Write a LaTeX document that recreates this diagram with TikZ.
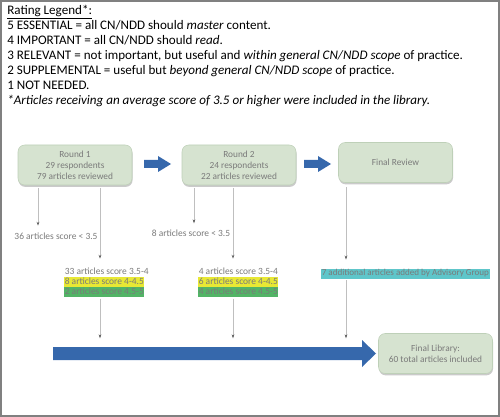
\documentclass[tikz,border=0pt]{standalone}
\usepackage{fontspec}
\setmainfont{Carlito}
\usetikzlibrary{arrows.meta,shadows}
\definecolor{boxgreen}{RGB}{214,227,208}
\definecolor{boxline}{RGB}{190,208,184}
\definecolor{txtgray}{RGB}{122,122,122}
\definecolor{bigblue}{RGB}{54,104,172}
\definecolor{hlyellow}{RGB}{232,232,52}
\definecolor{hlgreen}{RGB}{82,180,102}
\definecolor{hlcyan}{RGB}{94,198,202}
\definecolor{framegray}{RGB}{128,128,128}

\begin{document}
\begin{tikzpicture}[x=0.75pt,y=0.75pt,
  stage/.style={draw=boxline, fill=boxgreen, rounded corners=5pt, text=txtgray,
    align=center, font=\fontsize{7}{8.25}\selectfont,
    minimum width=85.5pt, minimum height=30pt,
    drop shadow={shadow xshift=0.4pt, shadow yshift=-1.4pt, fill=gray!70, opacity=0.6}},
  tally/.style={text=txtgray, font=\fontsize{7.1}{7.5}\selectfont, inner sep=0.4pt,
    text height=5.2pt, text depth=1.5pt, anchor=west},
  down/.style={draw=gray!50, line width=0.6pt,
    -{Stealth[length=3pt,width=2pt,color=gray!70!black]}},
  ]
  \useasboundingbox (0,0) rectangle (500,-417);
  \draw [framegray, line width=1.5pt] (1,-1) rectangle (499,-416);
  \node [anchor=north west, align=left, inner sep=0pt, font=\fontsize{9.8}{11.25}\selectfont] (legend) at (7,-5)
    {\underline{Rating Legend*:}\\
     5 ESSENTIAL = all CN/NDD should \textit{master} content.\\
     4 IMPORTANT = all CN/NDD should \textit{read}.\\
     3 RELEVANT = not important, but useful and \textit{within general CN/NDD scope} of practice.\\
     2 SUPPLEMENTAL = useful but \textit{beyond general CN/NDD scope} of practice.\\
     1 NOT NEEDED.\\
     \textit{*Articles receiving an average score of 3.5 or higher were included in the library.}};
  % stages
  \node [stage] (r1) at (75,-165) {Round 1\\29 respondents\\79 articles reviewed};
  \node [stage] (r2) at (239,-165) {Round 2\\24 respondents\\22 articles reviewed};
  \node [stage] (fr) at (395.5,-162.5) {Final Review};
  \node [stage] (lib) at (435.5,-353.5) {Final Library:\\60 total articles included};
  \fill [bigblue] (144,-160) -- (158,-160) -- (158,-156) -- (171,-164) -- (158,-172) -- (158,-168) -- (144,-168) -- cycle;
  \fill [bigblue] (304,-160) -- (318,-160) -- (318,-156) -- (331,-164) -- (318,-172) -- (318,-168) -- (304,-168) -- cycle;
  % scores
  \node [tally, anchor=center] (lo1) at (56,-237) {36 articles score < 3.5};
  \node [tally, anchor=center] (lo2) at (191,-234) {8 articles score < 3.5};
  \node [tally] (s1a) at (64,-272) {33 articles score 3.5-4};
  \node [tally, fill=hlyellow] (s1b) at (64,-282) {8 articles score 4-4.5};
  \node [tally, fill=hlgreen] (s1c) at (64,-292) {2 articles score 4.5-5};
  \node [tally] (s2a) at (198,-272) {4 articles score 3.5-4};
  \node [tally, fill=hlyellow] (s2b) at (198,-282) {6 articles score 4-4.5};
  \node [tally, fill=hlgreen] (s2c) at (198,-292) {4 articles score 4.5-5};
  \node [tally, fill=hlcyan, font=\fontsize{6.8}{7.5}\selectfont] (add) at (321,-273.5) {7 additional articles added by Advisory Group};
  % bottom arrow
  \coordinate (bartop) at (53,-347);
  \fill [bigblue] (53,-347) -- (362,-347) -- (362,-340) -- (376,-353.5) -- (362,-367) -- (362,-360) -- (53,-360) -- cycle;
  \draw [down, shorten <=2pt, shorten >=4.5pt] (38,0 |- r1.south) -- (38,0 |- lo1.north);
  \draw [down, shorten <=2pt, shorten >=6pt] (100,0 |- r1.south) -- (100,0 |- s1a.north);
  \draw [down, shorten <=2pt, shorten >=4pt] (194,0 |- r2.south) -- (194,0 |- lo2.north);
  \draw [down, shorten <=2pt, shorten >=6pt] (233,0 |- r2.south) -- (233,0 |- s2a.north);
  \draw [down, shorten <=3pt, shorten >=6.5pt] (346,0 |- fr.south) -- (346,0 |- add.north);
  \draw [down, shorten <=1pt, shorten >=6.5pt] (100,0 |- s1c.south) -- (100,0 |- bartop);
  \draw [down, shorten <=1pt, shorten >=6.5pt] (233,0 |- s2c.south) -- (233,0 |- bartop);
  \draw [down, shorten <=1pt, shorten >=6.5pt] (346,0 |- add.south) -- (346,0 |- bartop);
\end{tikzpicture}
\end{document}
